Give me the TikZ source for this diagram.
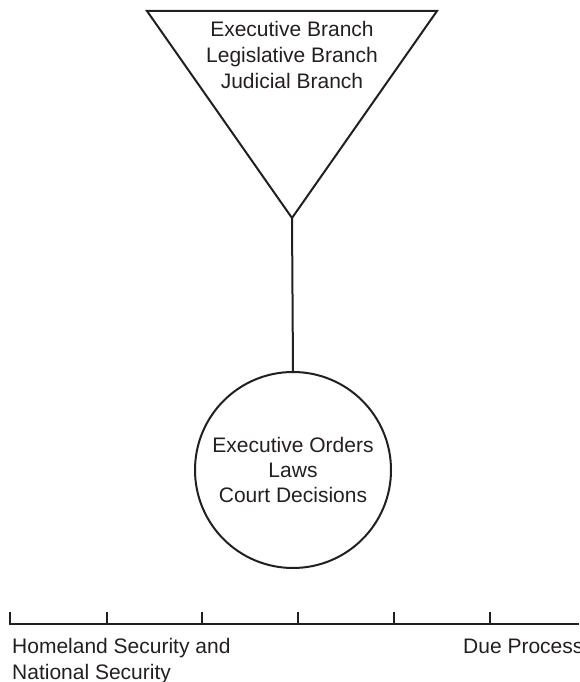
\documentclass[tikz,border=0pt]{standalone}
\usepackage{fontspec}
\setmainfont{Liberation Sans}
\definecolor{ink}{HTML}{231F20}
\begin{document}
\begin{tikzpicture}[x=1pt,y=1pt,
  stroke/.style={draw=ink,line width=2pt},
  label/.style={text=ink,inner sep=0pt,font=\fontsize{21}{26}\selectfont},
  tick/.style={draw=ink,line width=2pt}]
  \useasboundingbox (0,0) rectangle (579,682);
  \clip (0,0) rectangle (579,682);
  % inverted triangle for the three branches
  \draw[stroke,line join=miter] (147,671) -- (437,671) -- (292,464) -- cycle;
  \coordinate (apex) at (292,464);
  \node[label,align=center,anchor=north] (branches) at (292,661)
    {Executive Branch\\Legislative Branch\\Judicial Branch};
  % circle for the sources of law
  \node[stroke,circle,minimum size=196pt,inner sep=0pt] (sources) at (293,212) {};
  \node[label,align=center,anchor=north,font=\fontsize{21}{25}\selectfont] (sourcetext) at (293,245)
    {Executive Orders\\Laws\\Court Decisions};
  \draw[stroke] (apex) -- (sources.north);
  % scale along the bottom
  \coordinate (axl) at (10,58);
  \coordinate (axr) at (579,58);
  \draw[stroke] (axl) -- (axr);
  \foreach \x in {10,107,202,298,394,490}
    \draw[tick] (\x,57) -- (\x,70);
  % multi-line node: its base anchor sits on the last line
  \node[label,align=left,anchor=base west] (leftend) at (12,2)
    {Homeland Security and\\National Security};
  \node[label,anchor=base west] (rightend) at (463,28) {Due Process};
\end{tikzpicture}
\end{document}
